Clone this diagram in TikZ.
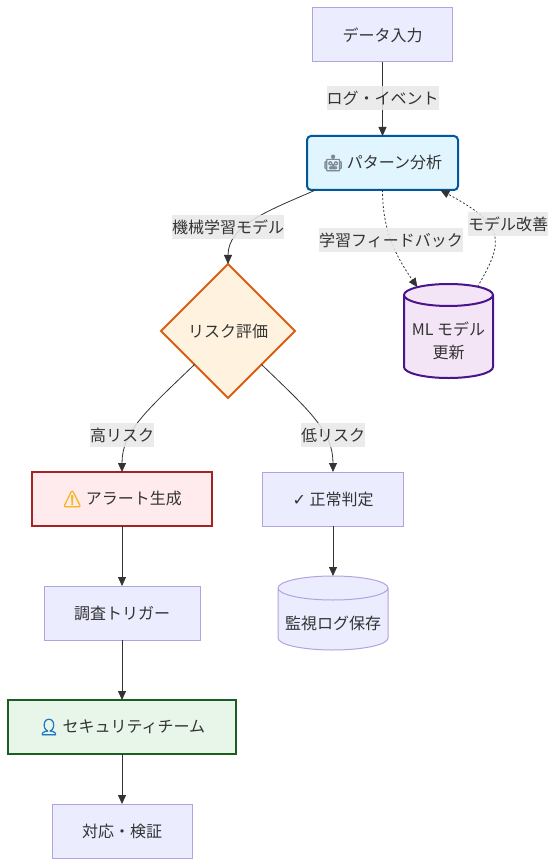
\documentclass[tikz,border=0pt]{standalone}
\usepackage{fontspec}
\setmainfont{Noto Sans CJK JP}
\newfontfamily\emojifont[FakeBold=3.5]{Noto Emoji}
\newfontfamily\symbolfont{DejaVu Sans}
\usepackage{tikz}
\usetikzlibrary{shapes.geometric, arrows.meta, positioning}
\definecolor{defaultfill}{HTML}{ECECFF}
\definecolor{defaultline}{HTML}{B3A2E0}
\definecolor{inkgray}{HTML}{333333}
\definecolor{labelgray}{HTML}{E8E8E8}
\definecolor{bluefill}{HTML}{E1F5FE}
\definecolor{blueline}{HTML}{01579B}
\definecolor{orangefill}{HTML}{FFF3E0}
\definecolor{orangeline}{HTML}{DB5F12}
\definecolor{redfill}{HTML}{FFEBEE}
\definecolor{redline}{HTML}{A42323}
\definecolor{purplefill}{HTML}{F3E5F5}
\definecolor{purpleline}{HTML}{4A148C}
\definecolor{greenfill}{HTML}{E8F5E9}
\definecolor{greenline}{HTML}{1B5E20}
\definecolor{robotgray}{HTML}{7F8C96}
\definecolor{warnyellow}{HTML}{F5B71F}
\definecolor{personblue}{HTML}{1F78C8}
\newcommand{\dropstrut}{\rule{0pt}{22pt}}

\begin{document}
\begin{tikzpicture}[
        x=1pt, y=-1pt,
        every node/.style={font=\fontsize{16}{23}\selectfont, text=inkgray, outer sep=0pt},
        box/.style={draw=defaultline, fill=defaultfill, line width=1pt, rectangle, minimum width=140pt, minimum height=54pt, inner sep=0pt, align=center},
        keybox/.style={box, line width=2pt},
        decision/.style={draw=orangeline, fill=orangefill, line width=2pt, diamond, aspect=1, minimum width=134pt, minimum height=134pt, inner sep=0pt, align=center},
        store/.style={cylinder, shape border rotate=90, draw=defaultline, cylinder uses custom fill, cylinder body fill=defaultfill, cylinder end fill=defaultfill, line width=1pt, inner sep=0pt, align=center},
        edgelabel/.style={fill=labelgray, fill opacity=.85, text opacity=1, inner sep=0pt, minimum height=24pt},
        arrow/.style={-{Triangle[length=9pt, width=8pt]}, line width=.8pt, draw=inkgray},
        dotarrow/.style={arrow, dash pattern=on 2pt off 2pt}
    ]
        \useasboundingbox (0,0) rectangle (556,866);

        % Nodes
        \node[box] (data) at (382.5,35) {データ入力};
        \node[keybox, below=74pt of data, minimum width=151pt, rounded corners=4pt, draw=blueline, fill=bluefill] (pattern) {{\emojifont\textcolor{robotgray}{🤖}} パターン分析};
        \node[decision] (risk) at (228,331) {リスク評価};
        \node[store, draw=purpleline, line width=2pt, cylinder body fill=purplefill, cylinder end fill=purplefill, minimum width=89pt, minimum height=94pt, aspect=.3] (ml) at (448.5,337) {\dropstrut ML モデル\\更新};
        \node[keybox, minimum width=180pt, draw=redline, fill=redfill] (alert) at (122,499) {{\emojifont\textcolor{warnyellow}{⚠}} アラート生成};
        \node[box, minimum width=141pt] (normal) at (333,499) {{\symbolfont ✓} 正常判定};
        \node[store, below=50pt of normal, minimum width=110pt, minimum height=74pt, aspect=.25] (log) {\dropstrut 監視ログ保存};
        \node[box, below=60pt of alert, minimum width=156pt] (trigger) {調査トリガー};
        \node[keybox, below=60pt of trigger, minimum width=228pt, draw=greenline, fill=greenfill] (team) {{\emojifont\textcolor{personblue}{👤}} セキュリティチーム};
        \node[box, below=50pt of team] (verify) {対応・検証};

        % Arrows
        \draw[arrow] (data) -- (pattern);
        \draw[arrow] (pattern.202) .. controls (270,210) and (228,225) .. (risk.north);
        \draw[dotarrow] (pattern.south) .. controls (382.5,230) and (395,255) .. (ml.122);
        \draw[dotarrow] (ml.60) .. controls (505,240) and (505,225) .. (pattern.-25.3);
        \draw[arrow] (risk.south west) .. controls (145,412) and (122,432) .. (alert.north);
        \draw[arrow] (risk.south east) .. controls (311,412) and (333,432) .. (normal.north);
        \draw[arrow] (alert) -- (trigger);
        \draw[arrow] (trigger) -- (team);
        \draw[arrow] (team) -- (verify);
        \draw[arrow] (normal) -- (log);

        % Edge labels
        \node[edgelabel] (logevent) at (382.5,98.5) {ログ・イベント};
        \node[edgelabel] (mlmodel) at (228,227) {機械学習モデル};
        \node[edgelabel] (feedback) at (391,240.5) {学習フィードバック};
        \node[edgelabel] (improve) at (508,224) {モデル改善};
        \node[edgelabel] (high) at (122,435) {高リスク};
        \node[edgelabel] (low) at (333,435) {低リスク};
    \end{tikzpicture}
\end{document}
